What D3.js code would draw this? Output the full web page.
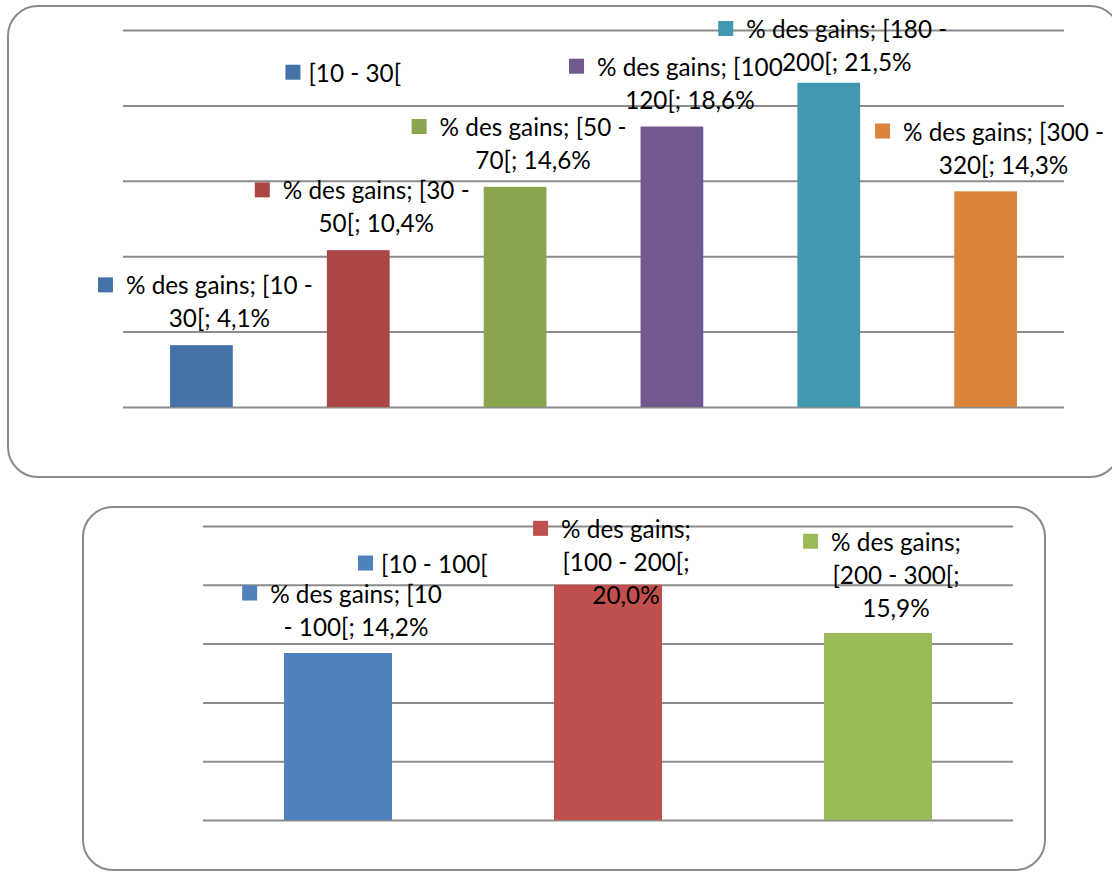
<!DOCTYPE html>
<html lang="fr">
<head>
    <meta charset="UTF-8">
    <title>% des gains</title>
    <script src="https://d3js.org/d3.v7.min.js"></script>
    <style>
        body { margin: 0; background: #fff; }
        text { font-family: Lato, "Open Sans", sans-serif; fill: #000; }
        .grid line { stroke: #8c8c8c; stroke-width: 2px; }
        .grid .domain { display: none; }
    </style>
</head>
<body>
<svg width="1112" height="872"></svg>
<script>
    // ---- data, chart 1
    const cats1 = ["[10 - 30[", "[30 - 50[", "[50 - 70[", "[100 - 120[", "[180 - 200[", "[300 - 320["];
    const gains1 = [4.1, 10.4, 14.6, 18.6, 21.5, 14.3];
    const colors1 = ["#4572a7", "#aa4643", "#89a54e", "#71588f", "#4198af", "#db843d"];
    const labels1 = [
        ["% des gains; [10 -", "30[; 4,1%"],
        ["% des gains; [30 -", "50[; 10,4%"],
        ["% des gains; [50 -", "70[; 14,6%"],
        ["% des gains; [100", "120[; 18,6%"],
        ["% des gains; [180 -", "200[; 21,5%"],
        ["% des gains; [300 -", "320[; 14,3%"]
    ];
    // where Excel dropped each label (value units, first line)
    const labelAt1 = [8.1, 14.4, 18.6, 22.6, 25.1, 18.3];

    // ---- data, chart 2
    const cats2 = ["[10 - 100[", "[100 - 200[", "[200 - 300["];
    const gains2 = [14.2, 20.0, 15.9];
    const colors2 = ["#4f81bd", "#c0504d", "#9bbb59"];
    const labels2 = [
        ["% des gains; [10", "- 100[; 14,2%"],
        ["% des gains;", "[100 - 200[;", "20,0%"],
        ["% des gains;", "[200 - 300[;", "15,9%"]
    ];
    const labelAt2 = [19.3, 24.8, 23.7];

    const yTicks = [0, 5, 10, 15, 20, 25];

    let svg = d3.select("svg");
    svg.append("rect").attr("width", 1112).attr("height", 872).attr("fill", "#fff");

    // fit the font so one label line has the width it has in the picture
    let probe = svg.append("text").attr("font-size", 20).text("% des gains; [10 -");
    const fontSize = 20 * 187 / probe.node().getComputedTextLength();
    probe.remove();
    const lineH = 33;

    function drawChart(o) {
        // frame
        svg.append("rect")
            .attr("x", o.box[0]).attr("y", o.box[1])
            .attr("width", o.box[2]).attr("height", o.box[3])
            .attr("rx", 30).attr("ry", 30)
            .attr("fill", "#fff")
            .attr("stroke", "#8a8a8a")
            .attr("stroke-width", 2);

        let x = d3.scaleBand()
            .domain(o.cats)
            .range(o.xr)
            .paddingInner(0.6)
            .paddingOuter(0.3);
        let y = d3.scaleLinear()
            .domain([0, 25])
            .range(o.yr);

        let g = svg.append("g");

        // gridlines
        g.append("g")
            .attr("class", "grid")
            .attr("transform", `translate(${o.xr[0]},0)`)
            .call(d3.axisLeft(y).tickValues(yTicks).tickSize(-(o.xr[1] - o.xr[0])).tickFormat(""));

        // bars
        g.selectAll("rect.bar")
            .data(o.values)
            .enter()
            .append("rect")
            .attr("class", "bar")
            .attr("x", (d, i) => x(o.cats[i]))
            .attr("y", d => y(d))
            .attr("width", x.bandwidth())
            .attr("height", d => y(0) - y(d))
            .attr("fill", (d, i) => o.colors[i]);

        // data labels with legend key
        o.labels.forEach(function (lines, i) {
            let cx = x(o.cats[i]) + x.bandwidth() / 2 + 18;
            let cy = y(o.labelAt[i]);
            let lg = g.append("g");
            let first = null;
            lines.forEach(function (t, k) {
                let tx = lg.append("text")
                    .attr("x", cx)
                    .attr("y", cy + k * lineH)
                    .attr("text-anchor", "middle")
                    .attr("dominant-baseline", "central")
                    .attr("font-size", fontSize)
                    .text(t);
                if (k === 0) first = tx;
            });
            let w = first.node().getComputedTextLength();
            lg.append("rect")
                .attr("x", cx - w / 2 - 28)
                .attr("y", cy - 7.5)
                .attr("width", 15).attr("height", 15)
                .attr("fill", o.colors[i]);
        });

        // stray series-name label
        let sx = x(o.cats[0]) + x.bandwidth() / 2 + o.stray[0];
        let sy = y(o.stray[1]);
        g.append("rect")
            .attr("x", sx - 23).attr("y", sy - 7.5)
            .attr("width", 15).attr("height", 15)
            .attr("fill", o.colors[0]);
        g.append("text")
            .attr("x", sx)
            .attr("y", sy)
            .attr("dominant-baseline", "central")
            .attr("font-size", fontSize)
            .text(o.cats[0]);
    }

    drawChart({
        box: [8, 6, 1112, 471],
        cats: cats1, values: gains1, colors: colors1,
        labels: labels1, labelAt: labelAt1,
        xr: [123, 1064], yr: [407, 30],
        stray: [107, 22.2]
    });

    drawChart({
        box: [83, 507, 962, 363],
        cats: cats2, values: gains2, colors: colors2,
        labels: labels2, labelAt: labelAt2,
        xr: [203, 1013], yr: [820, 526],
        stray: [43, 21.85]
    });
</script>
</body>
</html>
